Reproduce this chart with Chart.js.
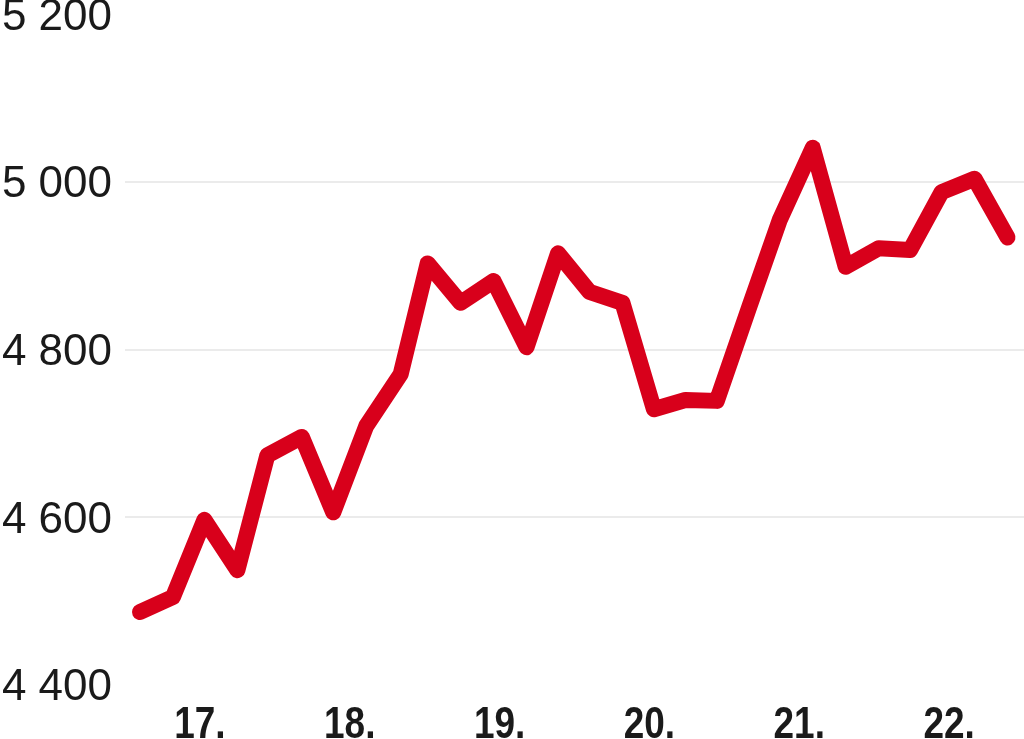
<!DOCTYPE html>
<html>
<head>
<meta charset="utf-8">
<script src="https://cdn.jsdelivr.net/npm/chart.js@4/dist/chart.umd.min.js"></script>
<style>
  html, body { margin: 0; padding: 0; background: #ffffff; }
  #wrap { width: 1024px; height: 739px; position: relative; }
</style>
</head>
<body>
<div id="wrap"><canvas id="c"></canvas></div>
<script>
// Data (x in years, e.g. 17.25 = a quarter into 2017)
const periods = [16.60, 16.82, 17.03, 17.25, 17.45, 17.68, 17.89, 18.11, 18.34, 18.52,
                 18.74, 18.96, 19.18, 19.39, 19.60, 19.82, 20.03, 20.24, 20.45, 20.67,
                 20.87, 21.09, 21.31, 21.53, 21.74, 21.95, 22.17, 22.39];
const values  = [4487, 4505, 4597, 4537, 4674, 4696, 4606, 4709, 4771, 4903,
                 4856, 4882, 4803, 4915, 4869, 4856, 4729, 4740, 4739, 4853,
                 4955, 5041, 4899, 4921, 4919, 4988, 5004, 4934];
const yearTicks  = [17, 18, 19, 20, 21, 22];
const yearLabels = ['17.', '18.', '19.', '20.', '21.', '22.'];
const yTicks = [4400, 4600, 4800, 5000, 5200];

const points = periods.map((p, i) => ({ x: p, y: values[i] }));

function fmt(v) {
  return String(v).replace(/\B(?=(\d{3})+(?!\d))/g, ' ');
}

// Draws the x tick labels from the x scale in a condensed bold face
const condensedXLabels = {
  id: 'condensedXLabels',
  afterDraw(chart) {
    const sc = chart.scales.x;
    const ctx = chart.ctx;
    ctx.save();
    ctx.font = 'bold 44px "Liberation Sans", Arial, sans-serif';
    ctx.fillStyle = '#1a1a1a';
    ctx.textAlign = 'center';
    ctx.textBaseline = 'alphabetic';
    sc.ticks.forEach((t) => {
      const i = yearTicks.indexOf(t.value);
      if (i < 0) return;
      const x = sc.getPixelForValue(t.value);
      ctx.save();
      ctx.translate(x, sc.top + 53);
      ctx.scale(0.84, 1);
      ctx.fillText(yearLabels[i], 0, 0);
      ctx.restore();
    });
    ctx.restore();
  }
};

new Chart(document.getElementById('c'), {
  type: 'line',
  data: {
    datasets: [{
      data: points,
      borderColor: '#d8001b',
      borderWidth: 16,
      borderCapStyle: 'round',
      borderJoinStyle: 'round',
      pointRadius: 0,
      tension: 0,
      fill: false,
      clip: false
    }]
  },
  plugins: [condensedXLabels],
  options: {
    responsive: true,
    maintainAspectRatio: false,
    animation: false,
    layout: { padding: 0 },
    plugins: { legend: { display: false }, tooltip: { enabled: false } },
    scales: {
      x: {
        type: 'linear',
        min: 16.5,
        max: 22.5,
        afterBuildTicks: (axis) => { axis.ticks = yearTicks.map(v => ({ value: v })); },
        afterFit: (scale) => { scale.height = 54; scale.paddingLeft = 0; scale.paddingRight = 0; },
        grid: { display: false, drawTicks: false },
        border: { display: false },
        ticks: {
          autoSkip: false,
          maxRotation: 0,
          padding: 0,
          color: 'rgba(0,0,0,0)',
          font: { family: '"Liberation Sans", Arial, sans-serif', size: 44, weight: 'bold', lineHeight: 1 },
          callback: (v) => { const i = yearTicks.indexOf(v); return i >= 0 ? yearLabels[i] : ''; }
        }
      },
      y: {
        min: 4400,
        max: 5200,
        afterBuildTicks: (axis) => { axis.ticks = yTicks.map(v => ({ value: v })); },
        afterFit: (scale) => { scale.width = 125; scale.paddingTop = 14.5; scale.paddingBottom = 0; },
        grid: {
          drawTicks: false,
          lineWidth: 2,
          color: (ctx) => (ctx.tick && (ctx.tick.value === 4400 || ctx.tick.value === 5200)) ? 'rgba(0,0,0,0)' : '#ebebeb'
        },
        border: { display: false },
        ticks: {
          padding: 13,
          labelOffset: 3,
          color: '#1a1a1a',
          font: { family: '"Liberation Sans", Arial, sans-serif', size: 44, lineHeight: 1 },
          callback: (v) => fmt(v)
        }
      }
    }
  }
});
</script>
</body>
</html>
